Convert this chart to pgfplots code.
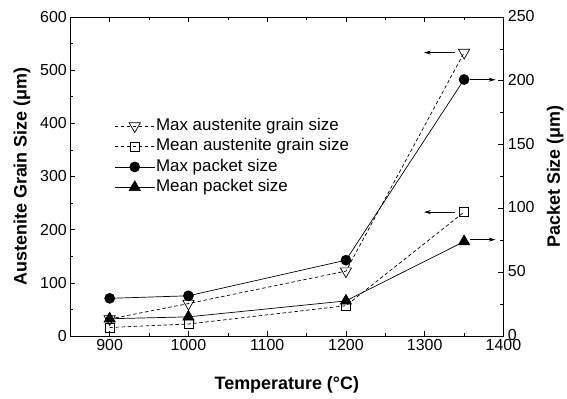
\documentclass[border=0pt]{standalone}
\usepackage{fontspec}
\setmainfont{Liberation Sans}
\usepackage{pgfplots}
\pgfplotsset{compat=1.18}
\usetikzlibrary{arrows.meta}

\pgfplotsset{
  common/.style={
    scale only axis,
    width=434.5pt, height=320pt,
    xmin=850, xmax=1400,
    ymin=0,
    tick align=inside,
    major tick length=5pt,
    minor tick length=3pt,
    every tick/.style={black, line width=0.6pt},
    axis line style={line width=0.8pt},
    tick label style={font=\fontsize{16}{19}\selectfont},
    label style={font=\fontsize{18}{21}\selectfont\bfseries},
    /pgf/number format/assume math mode=true,
    /pgf/number format/1000 sep={},
    scaled y ticks=false,
  },
  ln/.style={black, line width=0.7pt},
  dsh/.style={black, line width=0.7pt, dash pattern=on 3.5pt off 2.5pt},
  tdown/.style={mark=triangle, mark size=6.5pt, mark options={solid, rotate=180, fill=white, line width=0.7pt}},
  sq/.style={mark=square, mark size=4.5pt, mark options={solid, fill=white, line width=0.7pt}},
  circ/.style={mark=*, mark size=5pt, mark options={solid}},
  tup/.style={mark=triangle*, mark size=6.5pt, mark options={solid}},
}

\begin{document}
\begin{tikzpicture}
\begin{axis}[
  common,
  ymax=600,
  xtick={900,1000,...,1400},
  minor x tick num=1,
  ytick={0,100,...,600},
  minor y tick num=1,
  xtick pos=both,
  xticklabel pos=bottom,
  ytick pos=left,
  xlabel={Temperature (°C)},
  ylabel={Austenite Grain Size (μm)},
  xlabel style={at={([yshift=-49pt]axis description cs:0.5,0)}, anchor=center},
  ylabel style={at={([xshift=-48.5pt]axis description cs:0,0.5)}, anchor=center},
]
% max austenite grain size
\addplot[dsh, tdown] coordinates {(900,32) (1000,61) (1200,122) (1350,533)};
% mean austenite grain size
\addplot[dsh, sq] coordinates {(900,16) (1000,22.5) (1200,57) (1350,233)};
\draw[-{Stealth[length=7pt,width=4pt]}, line width=0.7pt] (axis cs:1339,533) -- (axis cs:1299,533);
\draw[-{Stealth[length=7pt,width=4pt]}, line width=0.7pt] (axis cs:1339,233) -- (axis cs:1299,233);
\end{axis}

\begin{axis}[
  common,
  ymax=250,
  axis x line=none,
  axis y line*=right,
  ytick={0,50,...,250},
  minor y tick num=1,
  yticklabel style={xshift=1pt, yshift=1pt},
  ylabel={Packet Size (μm)},
  ylabel style={at={([xshift=52pt]axis description cs:1,0.5)}, anchor=center},
  legend cell align=left,
  legend style={draw=none, fill=none, at={(0.1015,0.686)}, anchor=north west,
    font=\fontsize{17}{20}\selectfont, row sep=3pt, inner sep=0pt,
    nodes={inner sep=1pt, text height=12pt, text depth=3.5pt}},
  legend image code/.code={%
    \draw[mark repeat=2, mark phase=2] plot coordinates {(0pt,0pt) (20pt,0pt) (40pt,0pt)};},
]
\addlegendimage{dsh, tdown}
\addlegendentry{Max austenite grain size}
\addlegendimage{dsh, sq}
\addlegendentry{Mean austenite grain size}
% max packet size
\addplot[ln, circ] coordinates {(900,29.5) (1000,31.5) (1200,59.4) (1350,201)};
\addlegendentry{Max packet size}
% mean packet size
\addplot[ln, tup] coordinates {(900,13.5) (1000,15) (1200,27.5) (1350,74)};
\addlegendentry{Mean packet size}
\draw[-{Stealth[length=7pt,width=4pt]}, line width=0.7pt] (axis cs:1358,200.8) -- (axis cs:1390,200.8);
\draw[-{Stealth[length=7pt,width=4pt]}, line width=0.7pt] (axis cs:1358,75.5) -- (axis cs:1390,75.5);
\end{axis}
% page margins as in the reference
\path ([xshift=-70.5pt,yshift=-63pt]current axis.south west) rectangle ([xshift=62pt,yshift=17pt]current axis.north east);
\end{tikzpicture}
\end{document}
